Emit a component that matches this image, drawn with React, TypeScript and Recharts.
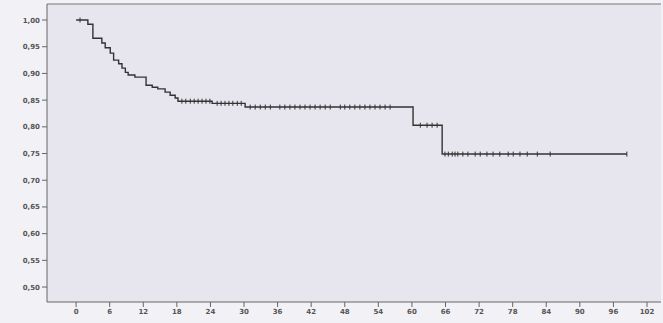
import React from "react";
import {
  ComposedChart,
  Line,
  Scatter,
  XAxis,
  YAxis,
  ReferenceLine,
  ReferenceArea,
} from "recharts";

// survival step function (months, cumulative survival)
const eventTimes = [
  0, 2.1, 3.0, 4.6, 5.2, 6.1, 6.7, 7.6, 8.2, 8.8, 9.3, 10.5, 12.5, 13.6, 14.6,
  15.9, 16.8, 17.7, 18.2, 24.3, 30.2, 60.2, 65.4, 98.4,
];
const survival = [
  1.0, 0.992, 0.966, 0.957, 0.948, 0.938, 0.925, 0.918, 0.91, 0.902, 0.897,
  0.893, 0.878, 0.874, 0.871, 0.865, 0.859, 0.854, 0.848, 0.844, 0.837, 0.803,
  0.749, 0.749,
];

// censored observations
const censorTimes = [
  0.7, 18.9, 19.6, 20.4, 21.1, 21.8, 22.5, 23.2, 23.9, 25.2, 25.9, 26.6, 27.3,
  28.0, 28.8, 29.5, 31.1, 32.0, 32.9, 33.8, 34.7, 36.4, 37.3, 38.2, 39.1, 40.0,
  40.9, 41.8, 42.7, 43.6, 44.5, 45.4, 47.2, 48.0, 48.9, 49.8, 50.7, 51.6, 52.5,
  53.4, 54.3, 55.2, 56.1, 61.5, 62.7, 63.6, 64.5, 65.9, 66.5, 67.2, 67.7, 68.2,
  69.1, 70.0, 71.3, 72.2, 73.4, 74.5, 75.7, 77.2, 78.1, 79.3, 80.6, 82.4, 84.7,
  98.4,
];

const xTicks = [0, 6, 12, 18, 24, 30, 36, 42, 48, 54, 60, 66, 72, 78, 84, 90, 96, 102];
const yTicks = [0.5, 0.55, 0.6, 0.65, 0.7, 0.75, 0.8, 0.85, 0.9, 0.95, 1.0];

const X_MIN = -5.2;
const X_MAX = 104.5;
const Y_MIN = 0.472;
const Y_MAX = 1.03;

const curve = eventTimes.map((t, i) => ({ t, s: survival[i] }));

function survAt(t: number) {
  let s = survival[0];
  for (let i = 0; i < eventTimes.length; i++) {
    if (eventTimes[i] <= t) s = survival[i];
  }
  return s;
}

const censored = censorTimes.map((t) => ({ t, s: survAt(t) }));

const tickStyle = { fontSize: 7, fill: "#555", fontWeight: 700, fontFamily: "DejaVu Sans" };

const CensorMark = (props: any) => {
  const { cx, cy } = props;
  return <line x1={cx} x2={cx} y1={cy - 2.5} y2={cy + 2.5} stroke="#333" strokeWidth={1} />;
};

export default function App() {
  return (
    <div style={{ position: "absolute", left: 0, top: 0, width: 663, height: 323, background: "#f2f1f5" }}>
      <ComposedChart width={663} height={323} margin={{ top: 4, right: 2, left: 0, bottom: 0 }}>
        <ReferenceArea
          x1={X_MIN}
          x2={X_MAX}
          y1={Y_MIN}
          y2={Y_MAX}
          fill="#e7e6ee"
          fillOpacity={1}
          stroke="none"
          ifOverflow="hidden"
        />
        <XAxis
          type="number"
          dataKey="t"
          domain={[X_MIN, X_MAX]}
          ticks={xTicks}
          allowDataOverflow
          height={21}
          tickSize={5}
          tickMargin={2}
          tick={tickStyle}
          stroke="#666"
          interval={0}
        />
        <YAxis
          type="number"
          dataKey="s"
          domain={[Y_MIN, Y_MAX]}
          ticks={yTicks}
          allowDataOverflow
          width={47}
          tickSize={5}
          tickMargin={2}
          tick={tickStyle}
          stroke="#666"
          interval={0}
          tickFormatter={(v: number) => v.toFixed(2).replace(".", ",")}
        />
        <ReferenceLine y={Y_MAX} stroke="#777" strokeWidth={1} ifOverflow="extendDomain" />
        <Line
          data={curve}
          dataKey="s"
          type="stepAfter"
          stroke="#333"
          strokeWidth={1.4}
          dot={false}
          isAnimationActive={false}
        />
        <Scatter data={censored} dataKey="s" shape={CensorMark} isAnimationActive={false} />
      </ComposedChart>
    </div>
  );
}
